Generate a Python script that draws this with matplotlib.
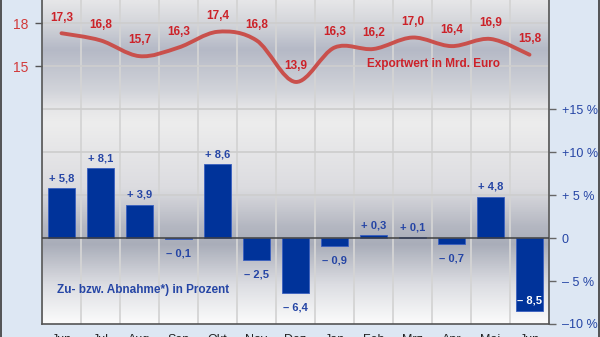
import numpy as np
import matplotlib
matplotlib.use("Agg")
import matplotlib.pyplot as plt
from matplotlib.colors import LinearSegmentedColormap
from matplotlib.path import Path
from matplotlib.patches import PathPatch
from matplotlib.lines import Line2D

plt.rcParams['font.family'] = ['Liberation Sans', 'DejaVu Sans']

months = ["Jun", "Jul", "Aug", "Sep", "Okt", "Nov", "Dez",
          "Jan", "Feb", "Mrz", "Apr", "Mai", "Jun"]
export_value = [17.3, 16.8, 15.7, 16.3, 17.4, 16.8, 13.9,
                16.3, 16.2, 17.0, 16.4, 16.9, 15.8]
change_pct = [5.8, 8.1, 3.9, -0.1, 8.6, -2.5, -6.4,
              -0.9, 0.3, 0.1, -0.7, 4.8, -8.5]
pct_ticks = [-10, -5, 0, 5, 10, 15]
pct_ticklabels = ["\u201310 %", "\u2013 5 %", "0", "+ 5 %", "+10 %", "+15 %"]
export_ticks = [15, 18]

BLUE = "#00339a"
BLUE_TXT = "#2545a5"
RED_TXT = "#cc2229"
RED_LINE = "#c9504c"

def fmt(v):
    s = ("%.1f" % abs(v)).replace(".", ",")
    return ("+ " if v >= 0 else "\u2013 ") + s

fig = plt.figure(figsize=(6.0, 3.37), dpi=100)
fig.patch.set_facecolor("#dde7f3")
ax = fig.add_axes([0.07, 0.0386, 0.845, 0.9614])
ax2 = ax.twinx()

p_lo, p_hi = -10, 27.7
x = np.arange(len(months))

# background gradient
stops = [(0.0, "#fbfbfb"), (0.12, "#dcdde2"), (0.245, "#a9adb9"),
         (0.30, "#b4b7c1"), (0.42, "#dcdce0"), (0.62, "#ededed"),
         (0.665, "#e6e6e8"), (0.72, "#d2d4da"), (0.85, "#b5b9c6"),
         (0.93, "#d3d5da"), (1.0, "#e6e6e8")]
cmap = LinearSegmentedColormap.from_list("bg", stops)
grad = np.linspace(0, 1, 400).reshape(-1, 1)
ax.imshow(grad, cmap=cmap, aspect="auto", origin="lower",
          extent=(-0.5, len(months) - 0.5, p_lo, p_hi), zorder=0)

for k in range(len(months) + 1):
    ax.axvline(k - 0.5, color="#d4d4d4", lw=1.3, zorder=1)
for g in [5, 10, 15, 20, 25]:
    ax.axhline(g, color="#cecece", lw=1.3, zorder=1)

ax.bar(x, change_pct, width=0.68, color=BLUE, edgecolor="#3a5fbf",
       linewidth=0.6, zorder=3)
ax.axhline(0, color="#404040", lw=1.1, zorder=4)

for i, v in enumerate(change_pct):
    if v >= 0:
        ax.annotate(fmt(v), (i, v), xytext=(0, 3.5), textcoords="offset points",
                    ha="center", va="bottom", fontsize=8, fontweight="bold",
                    color=BLUE_TXT, zorder=5)
    elif v < -8:
        ax.annotate(fmt(v), (i, v), xytext=(0, 4), textcoords="offset points",
                    ha="center", va="bottom", fontsize=8, fontweight="bold",
                    color="white", zorder=5)
    else:
        ax.annotate(fmt(v), (i, min(v, 0)), xytext=(0, -7), textcoords="offset points",
                    ha="center", va="top", fontsize=8, fontweight="bold",
                    color=BLUE_TXT, zorder=5)

ax.text(2.08, -6.0, "Zu- bzw. Abnahme*) in Prozent", ha="center", va="center",
        fontsize=8.5, fontweight="bold", color=BLUE_TXT, zorder=5)

ax.set_xlim(-0.5, len(months) - 0.5)
ax.set_ylim(p_lo, p_hi)
ax.set_xticks(x)
ax.set_xticklabels(months, fontsize=9, color="#222222")
ax.tick_params(axis="x", length=0, pad=7.5)
ax.yaxis.tick_right()
ax.yaxis.set_label_position("right")
ax.set_yticks(pct_ticks)
ax.set_yticklabels(pct_ticklabels, fontsize=9, color=BLUE_TXT)
ax.tick_params(axis="y", length=5, width=1, color="#666666", pad=4)
for s in ["left", "right", "bottom"]:
    ax.spines[s].set_color("#555555")
    ax.spines[s].set_linewidth(1.2)
ax.spines["top"].set_visible(False)

# export line on the twin axis, left ticks
ax2.patch.set_visible(False)
e_lo = 18 + (p_lo - 25) * 0.6
e_hi = 18 + (p_hi - 25) * 0.6
ax2.set_ylim(e_lo, e_hi)
ax2.yaxis.tick_left()
ax2.yaxis.set_label_position("left")
ax2.set_yticks(export_ticks)
ax2.set_yticklabels([str(t) for t in export_ticks], fontsize=10, color="#d23a3a")
ax2.tick_params(axis="y", length=5, width=1, color="#555555", pad=5)
for s in ax2.spines.values():
    s.set_visible(False)

pts = np.column_stack([x, export_value]).astype(float)
ext = np.vstack([pts[0], pts, pts[-1]])
verts = [tuple(pts[0])]
codes = [Path.MOVETO]
for i in range(1, len(ext) - 2):
    p0, p1, p2, p3 = ext[i - 1], ext[i], ext[i + 1], ext[i + 2]
    c1 = p1 + (p2 - p0) / 6
    c2 = p2 - (p3 - p1) / 6
    verts += [tuple(c1), tuple(c2), tuple(p2)]
    codes += [Path.CURVE4] * 3
ax2.add_patch(PathPatch(Path(verts, codes), facecolor="none", edgecolor=RED_LINE,
                        lw=2.8, capstyle="round", joinstyle="round", zorder=3))

for i, v in enumerate(export_value):
    ax2.annotate(("%.1f" % v).replace(".", ","), (i, v), xytext=(0, 7),
                 textcoords="offset points", ha="center", va="bottom",
                 fontsize=8.5, fontweight="bold", color=RED_TXT)

ax2.text(9.55, 18 + (20.3 - 25) * 0.6, "Exportwert in Mrd. Euro", ha="center",
         va="center", fontsize=8.5, fontweight="bold", color=RED_TXT)

fig.add_artist(Line2D([0.0015, 0.0015], [0, 1], transform=fig.transFigure,
                      color="#3a3a3a", lw=1.2))
fig.add_artist(Line2D([0.9975, 0.9975], [0, 1], transform=fig.transFigure,
                      color="#3a3a3a", lw=1.2))

fig.savefig("out.png", dpi=100, facecolor=fig.get_facecolor())
